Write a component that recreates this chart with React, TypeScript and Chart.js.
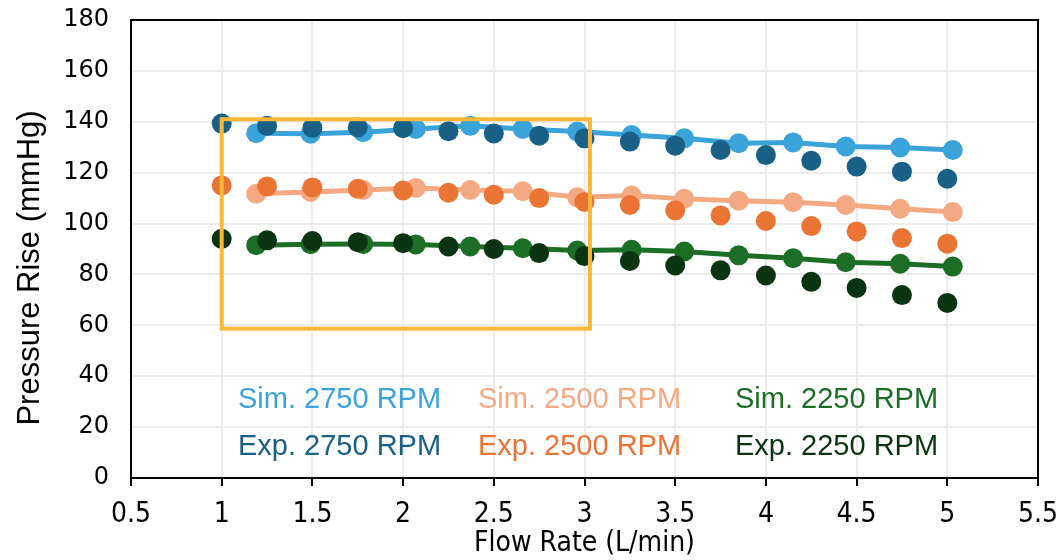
import { useEffect, useRef } from "react";
import { Chart, registerables } from "chart.js";

Chart.register(...registerables);

// ---------- data ----------
const expFlow = [1.0, 1.25, 1.5, 1.75, 2.0, 2.25, 2.5, 2.75, 3.0, 3.25, 3.5, 3.75, 4.0, 4.25, 4.5, 4.75, 5.0];
const exp2750 = [139.3, 138.4, 137.6, 137.8, 137.5, 136.3, 135.4, 134.5, 133.5, 132.2, 130.6, 128.9, 126.9, 124.7, 122.4, 120.4, 117.6];
const exp2500 = [115.0, 114.6, 114.2, 113.7, 113.0, 112.1, 111.3, 110.0, 108.5, 107.3, 105.2, 103.2, 101.0, 99.0, 96.9, 94.3, 92.1];
const exp2250 = [94.0, 93.4, 93.1, 92.7, 92.3, 91.0, 90.0, 88.4, 87.2, 85.3, 83.5, 81.6, 79.6, 77.1, 74.7, 71.9, 68.8];

const simFlow = [1.19, 1.49, 1.78, 2.07, 2.37, 2.66, 2.96, 3.26, 3.55, 3.85, 4.15, 4.44, 4.74, 5.03];
const sim2750 = [135.5, 135.3, 135.9, 137.2, 138.4, 137.2, 136.2, 134.8, 133.5, 131.6, 131.9, 130.3, 129.9, 128.9];
const sim2500 = [111.7, 112.4, 113.2, 114.0, 113.2, 112.7, 110.3, 111.0, 109.7, 109.0, 108.4, 107.3, 105.8, 104.5];
const sim2250 = [91.5, 91.9, 92.0, 91.8, 91.0, 90.3, 89.4, 89.7, 89.0, 87.5, 86.4, 84.8, 84.2, 83.1];

const xTickLabels = ["0.5", "1", "1.5", "2", "2.5", "3", "3.5", "4", "4.5", "5", "5.5"];
const yTickLabels = ["0", "20", "40", "60", "80", "100", "120", "140", "160", "180"];
const xTitle = "Flow Rate (L/min)";
const yTitle = "Pressure Rise (mmHg)";

// highlight box: [xMin, xMax, yMin, yMax]
const focusBox = [1.0, 3.03, 58.7, 141.0];

const seriesLabels = ["Sim. 2750 RPM", "Sim. 2500 RPM", "Sim. 2250 RPM", "Exp. 2750 RPM", "Exp. 2500 RPM", "Exp. 2250 RPM"];
const seriesColors = ["#3aa3d9", "#f4a983", "#1c6d26", "#186085", "#ea7434", "#0b3412"];

const pts = (xs: number[], ys: number[]) => xs.map((x, i) => ({ x, y: ys[i] }));

export default function App() {
  const ref = useRef<HTMLCanvasElement | null>(null);

  useEffect(() => {
    if (!ref.current) return;

    const boxPlugin = {
      id: "boxAndLegend",
      afterDraw(chart: any) {
        const { ctx, chartArea, scales } = chart;
        ctx.save();
        // frame top/right
        ctx.strokeStyle = "#000";
        ctx.lineWidth = 2;
        ctx.beginPath();
        ctx.moveTo(chartArea.left, chartArea.top);
        ctx.lineTo(chartArea.right, chartArea.top);
        ctx.lineTo(chartArea.right, chartArea.bottom);
        ctx.stroke();
        // highlight box
        const x0 = scales.x.getPixelForValue(focusBox[0]);
        const x1 = scales.x.getPixelForValue(focusBox[1]);
        const y0 = scales.y.getPixelForValue(focusBox[3]);
        const y1 = scales.y.getPixelForValue(focusBox[2]);
        ctx.strokeStyle = "#fbb73a";
        ctx.lineWidth = 4;
        ctx.strokeRect(x0, y0, x1 - x0, y1 - y0);
        // legend
        ctx.font = "29px 'Liberation Sans', Arial, sans-serif";
        ctx.textBaseline = "alphabetic";
        ctx.textAlign = "left";
        const colX = [238, 478, 735];
        const rowY = [408, 455];
        for (let i = 0; i < 6; i++) {
          ctx.fillStyle = seriesColors[i];
          ctx.fillText(seriesLabels[i], colX[i % 3], rowY[Math.floor(i / 3)]);
        }
        // y axis title
        ctx.translate(30, 268);
        ctx.rotate(-Math.PI / 2);
        ctx.font = "31px 'Liberation Sans', Arial, sans-serif";
        ctx.fillStyle = "#000";
        ctx.textAlign = "center";
        ctx.textBaseline = "middle";
        ctx.fillText(yTitle, 0, 0);
        ctx.restore();
      },
    };

    const simSets = [sim2750, sim2500, sim2250].map((ys, i) => ({
      label: seriesLabels[i],
      data: pts(simFlow, ys),
      showLine: true,
      borderColor: seriesColors[i],
      backgroundColor: seriesColors[i],
      borderWidth: 5,
      pointRadius: 10,
      pointBorderWidth: 0,
      tension: 0,
      order: 2,
    }));
    const expSets = [exp2750, exp2500, exp2250].map((ys, i) => ({
      label: seriesLabels[i + 3],
      data: pts(expFlow, ys),
      showLine: false,
      borderColor: seriesColors[i + 3],
      backgroundColor: seriesColors[i + 3],
      pointRadius: 10,
      pointBorderWidth: 0,
      order: 1,
    }));

    const chart = new Chart(ref.current, {
      type: "scatter",
      data: { datasets: [...simSets, ...expSets] as any },
      plugins: [boxPlugin],
      options: {
        animation: false,
        responsive: false,
        layout: { padding: { top: 20, right: 25, left: 0, bottom: 0 } },
        plugins: { legend: { display: false }, tooltip: { enabled: false } },
        scales: {
          x: {
            type: "linear",
            min: 0.5,
            max: 5.5,
            afterFit: (s: any) => { s.height = 82; s.paddingLeft = 0; s.paddingRight = 0; },
            ticks: {
              stepSize: 0.5,
              padding: 12,
              color: "#000",
              font: { family: "'DejaVu Sans Condensed', 'Liberation Sans Narrow', sans-serif", size: 28 },
              callback: (_v: any, i: number) => xTickLabels[i],
              maxRotation: 0,
              autoSkip: false,
            },
            grid: { color: "#ececec", lineWidth: 2, tickLength: 8, tickColor: "#000", drawTicks: true },
            border: { display: true, color: "#000", width: 2 },
            title: {
              display: true,
              text: xTitle,
              color: "#000",
              font: { family: "'DejaVu Sans Condensed', 'Liberation Sans Narrow', sans-serif", size: 28 },
              padding: { top: 0, bottom: -1 },
            },
          },
          y: {
            type: "linear",
            min: 0,
            max: 180,
            afterFit: (s: any) => { s.width = 131; s.paddingTop = 0; s.paddingBottom = 0; },
            ticks: {
              stepSize: 20,
              padding: 22,
              color: "#000",
              font: { family: "'DejaVu Sans', sans-serif", size: 24 },
              callback: (_v: any, i: number) => yTickLabels[i],
            },
            grid: { color: "#ececec", lineWidth: 2, drawTicks: false },
            border: { display: true, color: "#000", width: 2 },
            title: { display: false },
          },
        },
      },
    });
    return () => chart.destroy();
  }, []);

  return (
    <div style={{ position: "fixed", left: 0, top: 0, width: 1063, height: 560, background: "#fff" }}>
      <canvas ref={ref} width={1063} height={560} style={{ display: "block" }} />
    </div>
  );
}
